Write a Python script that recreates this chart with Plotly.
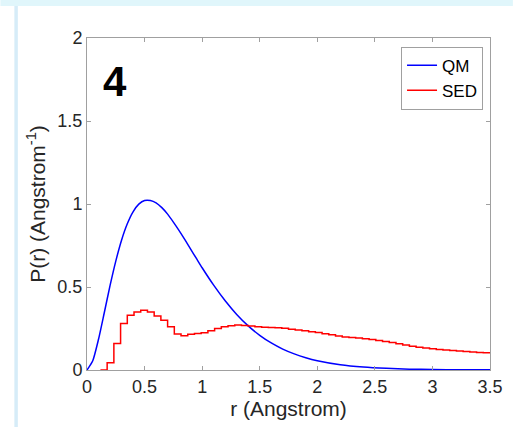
import numpy as np
import plotly.graph_objects as go

# QM radial distribution
r_qm = [0.0, 0.05, 0.10, 0.15, 0.20, 0.25, 0.30, 0.35, 0.40, 0.45, 0.50, 0.55, 0.60,
        0.65, 0.70, 0.75, 0.80, 0.85, 0.90, 0.95, 1.00, 1.10, 1.20, 1.30, 1.40, 1.50,
        1.60, 1.70, 1.80, 1.90, 2.00, 2.20, 2.40, 2.60, 2.80, 3.00, 3.25, 3.50]
p_qm = [0.0, 0.056, 0.185, 0.345, 0.508, 0.656, 0.782, 0.881, 0.953, 0.999, 1.021, 1.021, 1.007,
        0.978, 0.939, 0.891, 0.840, 0.785, 0.728, 0.672, 0.616, 0.511, 0.417, 0.335, 0.266, 0.209,
        0.163, 0.126, 0.097, 0.074, 0.056, 0.032, 0.018, 0.010, 0.005, 0.003, 0.001, 0.001]

# SED histogram (stairs), bin width 3.5/60, starting at bin 2
bin_width = 3.5 / 60
first_bin = 2
p_sed = [0.0, 0.044, 0.16, 0.28, 0.33, 0.35, 0.36, 0.35, 0.325, 0.30, 0.26, 0.217, 0.207, 0.215,
         0.22, 0.225, 0.237, 0.25, 0.26, 0.267, 0.271, 0.268, 0.265, 0.261, 0.258, 0.256, 0.255,
         0.252, 0.246, 0.241, 0.236, 0.231, 0.226, 0.219, 0.212, 0.205, 0.199, 0.196, 0.193,
         0.189, 0.184, 0.178, 0.172, 0.165, 0.158, 0.150, 0.143, 0.137, 0.132, 0.128, 0.124,
         0.120, 0.117, 0.114, 0.111, 0.108, 0.106, 0.104, 0.104]
r_sed = [(first_bin + i) * bin_width for i in range(len(p_sed))]

x_ticks = [0, 0.5, 1, 1.5, 2, 2.5, 3, 3.5]
x_tick_text = ["0", "0.5", "1", "1.5", "2", "2.5", "3", "3.5"]
y_ticks = [0, 0.5, 1, 1.5, 2]
y_tick_text = ["0", "0.5", "1", "1.5", "2"]

FONT = "Liberation Sans, Arial, Helvetica, sans-serif"
AX = "#a0a0a0"

fig = go.Figure()
fig.add_trace(go.Scatter(x=r_qm, y=p_qm, mode="lines", name="QM",
                         line=dict(color="#0000ff", width=1.5, shape="spline", smoothing=0.6)))
fig.add_trace(go.Scatter(x=r_sed, y=p_sed, mode="lines", name="SED",
                         line=dict(color="#ff0000", width=1.5, shape="hv")))

W, H = 515, 427
ml, mr, mt, mb = 87, 23, 38, 57
pw, ph = W - ml - mr, H - mt - mb
def px_x(p):
    return (p - ml) / pw
def px_y(p):
    return (H - mb - p) / ph

shapes = [
    dict(type="rect", xref="paper", yref="paper", x0=px_x(0), x1=px_x(W), y0=px_y(6), y1=px_y(0),
         fillcolor="#e0f6fb", line=dict(width=0), layer="below"),
    dict(type="rect", xref="paper", yref="paper", x0=px_x(14), x1=px_x(17.5), y0=px_y(H), y1=px_y(6),
         fillcolor="#d6ecf8", line=dict(width=0), layer="below"),
]

fig.update_layout(
    width=W, height=H,
    margin=dict(l=ml, r=mr, t=mt, b=mb, pad=0),
    paper_bgcolor="white", plot_bgcolor="white",
    font=dict(family=FONT, size=18, color="#262626"),
    showlegend=True,
    legend=dict(x=px_x(485), y=px_y(46.7), xanchor="right", yanchor="top",
                bgcolor="white", bordercolor=AX, borderwidth=1,
                font=dict(size=17, color="black"), tracegroupgap=0,
                itemwidth=30),
    shapes=shapes,
    annotations=[dict(x=0.246, y=1.738, xref="x", yref="y", text="<b>4</b>", showarrow=False,
                      font=dict(size=42, color="black", family=FONT))],
)
fig.update_xaxes(range=[0, 3.5], tickvals=x_ticks, ticktext=x_tick_text,
                 showgrid=False, zeroline=False, showline=True, linecolor=AX, linewidth=1,
                 mirror="ticks", ticks="inside", ticklen=4, tickcolor=AX,
                 title=dict(text="r (Angstrom)", font=dict(size=21), standoff=4))
fig.update_yaxes(range=[0, 2], tickvals=y_ticks, ticktext=y_tick_text,
                 showgrid=False, zeroline=False, showline=True, linecolor=AX, linewidth=1,
                 mirror="ticks", ticks="inside", ticklen=4, tickcolor=AX,
                 title=dict(text="P(r) (Angstrom<sup>-1</sup>)", font=dict(size=21), standoff=6))

fig.write_html("out.html", config={"displayModeBar": False},
               post_script="document.body.style.margin='0';document.body.style.overflow='hidden';")
